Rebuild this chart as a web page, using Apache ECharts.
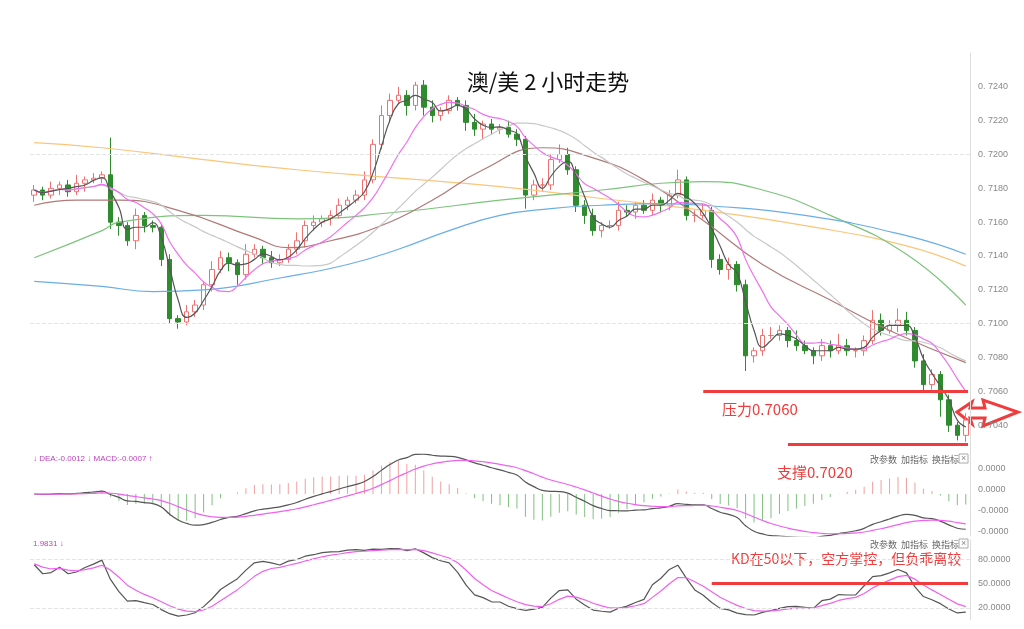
<!DOCTYPE html>
<html><head><meta charset="utf-8">
<script src="https://cdn.jsdelivr.net/npm/echarts@6/dist/echarts.min.js"></script>
<style>html,body{margin:0;padding:0;background:#fff}#c{width:1024px;height:629px}</style>
</head><body><div id="c"></div>
<script>
// closing prices of 2-hour candles
const closes = [0.7179,0.7176,0.7180,0.7182,0.7178,0.7183,0.7185,0.7186,0.7188,
0.7160,0.7158,0.7149,0.7164,0.7158,0.7157,
0.7138,0.7103,0.7101,0.7107,0.7111,
0.7123,0.7132,0.7139,0.7136,0.7129,
0.7141,0.7144,0.7139,0.7136,0.7138,
0.7144,0.7149,0.7158,0.7160,0.7162,
0.7164,0.7170,0.7173,0.7176,0.7185,
0.7206,0.7223,0.7232,0.7235,0.7229,
0.7241,0.7228,0.7223,0.7226,0.7232,
0.7229,0.7219,0.7215,0.7218,0.7215,
0.7216,0.7212,0.7209,0.7176,0.7182,
0.7182,0.7197,0.7200,0.7191,0.7170,
0.7164,0.7155,0.7158,0.7158,0.7167,
0.7166,0.7170,0.7167,0.7173,0.7170,
0.7176,0.7185,0.7164,0.7164,0.7167,
0.7138,0.7132,0.7135,0.7123,0.7081,
0.7084,0.7093,0.7093,0.7096,0.7090,
0.7087,0.7084,0.7081,0.7087,0.7084,
0.7087,0.7084,0.7084,0.7090,0.7102,
0.7096,0.7099,0.7102,0.7096,0.7078,
0.7064,0.7070,0.7055,0.7040,0.7034,0.7043];
const firstOpen = 0.7176;
// upper / lower wick lengths in 0.0001
const wickUp = [3,2,4,2,3,5,2,3,2,22,3,2,4,2,3,2,3,2,4,3,2,5,4,3,2,6,3,2,4,3,3,5,3,4,2,3,4,2,3,5,3,6,4,5,3,2,3,4,2,3,2,3,5,2,3,2,4,3,2,3,4,3,6,4,2,3,4,2,3,5,3,2,3,4,2,3,6,2,3,4,2,3,4,2,3,2,4,5,3,2,6,3,2,4,3,7,4,2,3,6,4,3,7,5,2,4,3,2,3,2,4];
const wickDn = [4,3,2,4,3,2,5,2,3,4,6,3,5,4,3,4,3,4,2,3,3,4,2,5,6,3,2,4,3,2,2,3,4,3,3,4,2,3,2,3,2,3,4,2,6,3,5,4,3,2,3,5,4,6,3,3,2,4,8,3,4,3,2,3,4,5,3,4,2,3,3,4,2,3,4,3,2,3,4,2,5,3,6,4,9,4,3,2,3,4,3,2,5,3,4,2,3,4,3,2,3,2,4,3,4,5,3,10,4,3,4];
const priceTicks = [0.7040,0.7060,0.7080,0.7100,0.7120,0.7140,0.7160,0.7180,0.7200,0.7220,0.7240];
// long moving averages, sampled: [candle index, value]
const maOrange = [[0,0.7207],[8,0.7204],[20,0.7197],[31,0.7191],[43,0.7186],[55,0.7181],[67,0.7174],[79,0.7167],[91,0.7158],[103,0.7146],[110,0.7134]];
const maGreen = [[0,0.7139],[8,0.7155],[10,0.7160],[20,0.7164],[31,0.7162],[43,0.7166],[55,0.7173],[67,0.7179],[74,0.7183],[79,0.7184],[86,0.7179],[94,0.7164],[103,0.7141],[110,0.7111]];
const maBlue = [[0,0.7125],[8,0.7122],[14,0.7119],[20,0.7120],[29,0.7127],[37,0.7135],[43,0.7144],[49,0.7155],[55,0.7164],[61,0.7168],[67,0.7170],[74,0.7171],[79,0.7170],[91,0.7164],[103,0.7152],[110,0.7141]];
const maBrown = [[0,0.7170],[5,0.7173],[10,0.7173],[17,0.7167],[26,0.7151],[30,0.7145],[35,0.7149],[41,0.7158],[47,0.7173],[53,0.7191],[60,0.7204],[66,0.7198],[72,0.7185],[79,0.7161],[86,0.7135],[94,0.7114],[101,0.7096],[110,0.7077]];

const N = closes.length;
const cats = closes.map((_, i) => String(i));
const ohlc = closes.map((c, i) => {
  const o = i === 0 ? firstOpen : closes[i - 1];
  const hi = Math.max(o, c) + wickUp[i] / 10000, lo = Math.min(o, c) - wickDn[i] / 10000;
  return [o, c, lo, hi];
});
function sma(n){return closes.map((_,i)=>{if(i<n-1){const s=closes.slice(0,i+1);return +(s.reduce((a,b)=>a+b,0)/s.length).toFixed(5);}let s=0;for(let k=i-n+1;k<=i;k++)s+=closes[k];return +(s/n).toFixed(5);});}
function sparse(arr){const d=new Array(N).fill(null);arr.forEach(([i,v])=>d[i]=v);return d;}
function ema(src,n){const a=2/(n+1);let r=[];src.forEach((v,i)=>r.push(i?r[i-1]+a*(v-r[i-1]):v));return r;}
const e12=ema(closes,12), e26=ema(closes,26);
const dif=e12.map((v,i)=>v-e26[i]); const dea=ema(dif,9);
const hist=dif.map((v,i)=>2*(v-dea[i]));
let K=[],D=[];let pk=75,pd=75;
ohlc.forEach((_,i)=>{const s=ohlc.slice(Math.max(0,i-8),i+1);const h=Math.max(...s.map(x=>x[3])),l=Math.min(...s.map(x=>x[2]));const rsv=h===l?50:(closes[i]-l)/(h-l)*100;pk=2/3*pk+rsv/3;pd=2/3*pd+pk/3;K.push(pk);D.push(pd);});

const red='#f03c3c', labelC='#888';
const chart = echarts.init(document.getElementById('c'));
const dashed = (vals) => ({silent:true,symbol:'none',label:{show:false},lineStyle:{color:'#e4e4e4',type:'dashed',width:1},data:vals.map(v=>({yAxis:v}))});
chart.setOption({
  animation:false,
  title:{text:'澳/美 2 小时走势',left:543,top:66,textAlign:'center',textStyle:{fontSize:22,fontWeight:'normal',color:'#111',fontFamily:'Noto Sans CJK SC'}},
  grid:[{left:30,right:54,top:53,height:406},{left:30,right:54,top:452,height:84},{left:30,right:54,top:540,height:80}],
  xAxis:[0,1,2].map(g=>({type:'category',gridIndex:g,data:cats,boundaryGap:true,axisLine:{show:false},axisTick:{show:false},axisLabel:{show:false},splitLine:{show:false}})),
  yAxis:[
    {gridIndex:0,position:'right',min:0.7020,max:0.7260,interval:0.0020,splitLine:{show:false},axisLine:{show:true,lineStyle:{color:'#ddd'}},axisTick:{show:false},
     axisLabel:{color:labelC,fontSize:9,margin:8,formatter:v=>(v>0.7035&&v<0.7245)?v.toFixed(4).replace('0.','0. '):''}},
    {gridIndex:1,position:'right',min:-0.0024,max:0.0024,interval:0.0012,splitLine:{show:false},axisLine:{show:true,lineStyle:{color:'#ddd'}},axisTick:{show:false},
     axisLabel:{color:labelC,fontSize:9,margin:8,formatter:v=>(v>=0.0024)?'':(v<0?'-0.0000':'0.0000'),verticalAlign:'bottom'}},
    {gridIndex:2,position:'right',min:5,max:104,interval:15,splitLine:{show:false},axisLine:{show:true,lineStyle:{color:'#ddd'}},axisTick:{show:false},
     axisLabel:{color:labelC,fontSize:9,margin:8,formatter:v=>[20,50,80].includes(v)?v.toFixed(4):''}}
  ],
  series:[
    {type:'candlestick',xAxisIndex:0,yAxisIndex:0,data:ohlc,barWidth:5,
     itemStyle:{color:'#fff',color0:'#2e8b2e',borderColor:'#f07070',borderColor0:'#2e8b2e',borderWidth:1},
     markLine:dashed(priceTicks),
     markPoint:{symbol:'none',data:[
       {coord:['45',0.7243],label:{show:true,formatter:'←0. 7242',color:'#f0a060',fontSize:8,position:'right',offset:[-2,0]}},
       {coord:['104',0.7032],label:{show:true,formatter:'0. 7032',color:'#f0a060',fontSize:8,offset:[0,2]}}]}},
    {type:'line',data:sparse(maOrange),connectNulls:true,smooth:true,symbol:'none',lineStyle:{color:'#fbc57a',width:1.2}},
    {type:'line',data:sparse(maGreen),connectNulls:true,smooth:true,symbol:'none',lineStyle:{color:'#7cc47c',width:1.2}},
    {type:'line',data:sparse(maBlue),connectNulls:true,smooth:true,symbol:'none',lineStyle:{color:'#6aaee8',width:1.2}},
    {type:'line',data:sparse(maBrown),connectNulls:true,smooth:true,symbol:'none',lineStyle:{color:'#b07a78',width:1.2}},
    {type:'line',data:sma(20),smooth:true,symbol:'none',lineStyle:{color:'#c8c8c8',width:1.2}},
    {type:'line',data:sma(8),smooth:true,symbol:'none',lineStyle:{color:'#f070f0',width:1.2}},
    {type:'line',data:sma(3),smooth:true,symbol:'none',lineStyle:{color:'#555',width:1.2},
     markLine:{silent:true,symbol:'none',label:{show:false},lineStyle:{color:red,width:3,type:'solid'},data:[
       [{coord:['79',0.7060]},{coord:['110',0.7060],x:968}],
       [{coord:['89',0.7029]},{coord:['110',0.7029],x:968}]]}},
    {type:'bar',xAxisIndex:1,yAxisIndex:1,data:hist.map(v=>({value:v,itemStyle:{color:v>=0?'#f0a0a0':'#80c080'}})),barWidth:1},
    {type:'line',xAxisIndex:1,yAxisIndex:1,data:dif,symbol:'none',smooth:true,lineStyle:{color:'#555',width:1.2}},
    {type:'line',xAxisIndex:1,yAxisIndex:1,data:dea,symbol:'none',smooth:true,lineStyle:{color:'#f060f0',width:1.2}},
    {type:'line',xAxisIndex:2,yAxisIndex:2,data:K,symbol:'none',lineStyle:{color:'#555',width:1.2},
     markLine:{silent:true,symbol:'none',label:{show:false},data:[
       {yAxis:20,lineStyle:{color:'#e4e4e4',type:'dashed',width:1}},{yAxis:80,lineStyle:{color:'#e4e4e4',type:'dashed',width:1}},
       [{coord:['80',50],lineStyle:{color:red,width:3,type:'solid'}},{coord:['110',50],x:968}]]}},
    {type:'line',xAxisIndex:2,yAxisIndex:2,data:D,symbol:'none',lineStyle:{color:'#f060f0',width:1.2}}
  ],
  graphic:[
    {type:'text',left:722,top:402,style:{text:'压力0.7060',fill:red,font:'15px "Noto Sans CJK SC"'}},
    {type:'text',left:777,top:465,style:{text:'支撑0.7020',fill:red,font:'15px "Noto Sans CJK SC"'}},
    {type:'text',left:731,top:552,style:{text:'KD在50以下，空方掌控，但负乖离较',fill:red,font:'14px "Noto Sans CJK SC"'}},
    {type:'text',left:33,top:455,style:{text:'↓ DEA:-0.0012 ↓ MACD:-0.0007 ↑',fill:'#c040c0',font:'8px sans-serif'}},
    {type:'text',left:33,top:540,style:{text:'1.9831 ↓',fill:'#c040c0',font:'8px sans-serif'}},
    {type:'text',left:870,top:455,style:{text:'改参数  加指标  换指标',fill:'#666',font:'9px "Noto Sans CJK SC"'}},
    {type:'text',left:870,top:540,style:{text:'改参数  加指标  换指标',fill:'#666',font:'9px "Noto Sans CJK SC"'}},
    {type:'rect',shape:{x:959,y:454,width:9,height:9},style:{fill:'#fff',stroke:'#aaa',lineWidth:1}},
    {type:'rect',shape:{x:959,y:539,width:9,height:9},style:{fill:'#fff',stroke:'#aaa',lineWidth:1}},
    {type:'text',left:961,top:454,style:{text:'×',fill:'#888',font:'9px sans-serif'}},
    {type:'text',left:961,top:539,style:{text:'×',fill:'#888',font:'9px sans-serif'}},
    {type:'polygon',shape:{points:[[957,412],[972,402],[970,408],[985,408],[983,400],[1018,412],[983,426],[985,418],[970,418],[972,424]]},
     style:{fill:'#fff',stroke:red,lineWidth:3}}
  ]
});
</script></body></html>
